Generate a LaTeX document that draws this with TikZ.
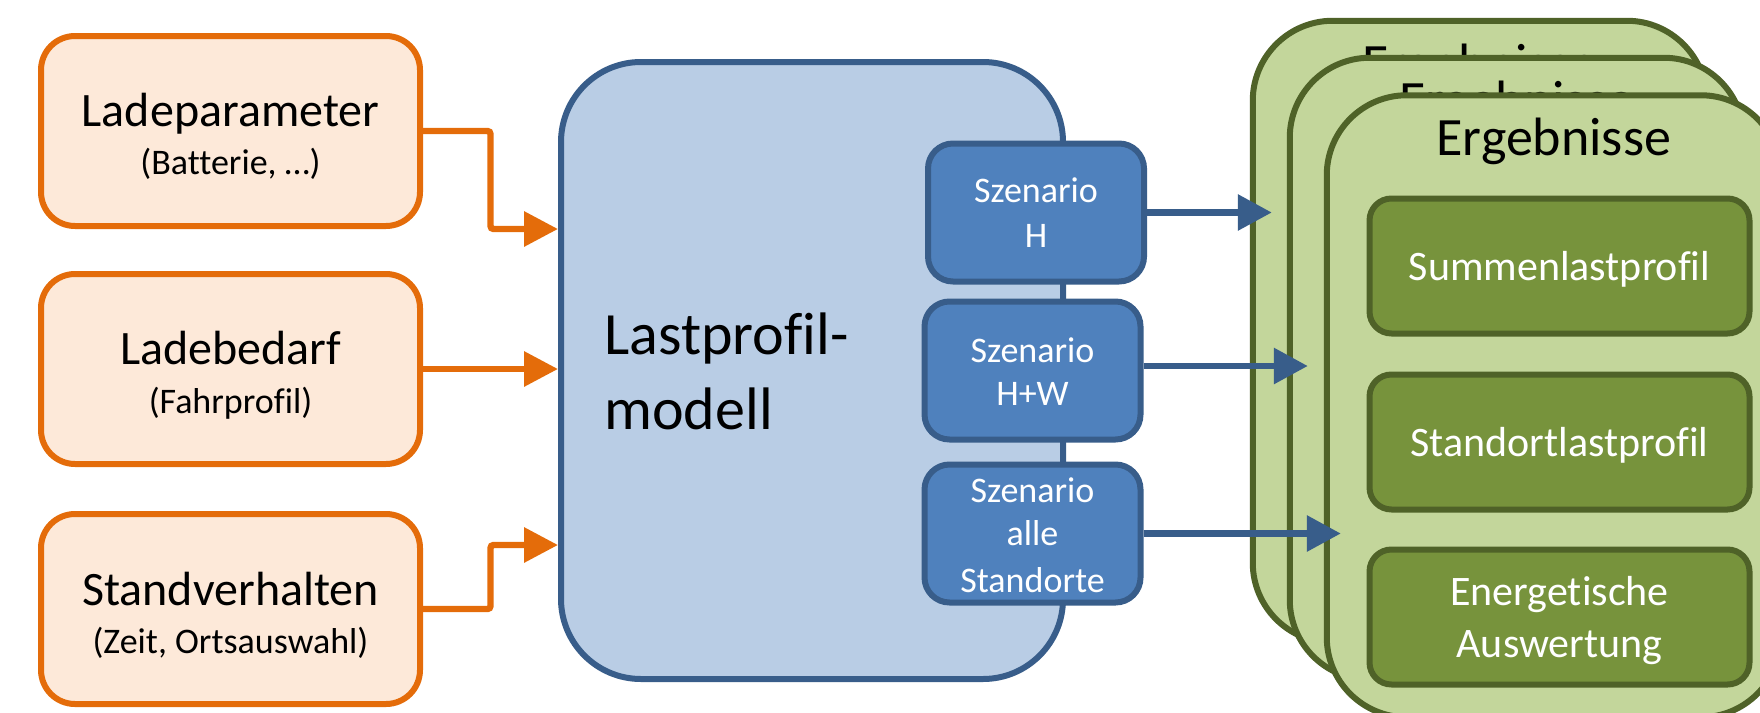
\documentclass[tikz,border=0pt]{standalone}
\usepackage{fontspec}
\setmainfont[Ligatures={NoCommon}]{Carlito}
\usetikzlibrary{arrows.meta,calc}
\definecolor{oline}{HTML}{E46C0A}
\definecolor{ofill}{HTML}{FDE9D9}
\definecolor{bline}{HTML}{385D8A}
\definecolor{bfill}{HTML}{B9CDE5}
\definecolor{sfill}{HTML}{4F81BD}
\definecolor{gline}{HTML}{4F6228}
\definecolor{gfill}{HTML}{C3D69B}
\definecolor{ifill}{HTML}{77933C}
\begin{document}
\begin{tikzpicture}[x=0.5pt,y=-0.5pt,
  obox/.style={draw=oline, fill=ofill, line width=3pt, rounded corners=17pt, minimum width=189.5pt, minimum height=95pt, inner sep=0pt},
  mbox/.style={draw=bline, fill=bfill, line width=3pt, rounded corners=40pt, minimum width=251pt, minimum height=308.5pt, inner sep=0pt},
  sbox/.style={draw=bline, fill=sfill, line width=3pt, rounded corners=12.5pt, minimum width=108pt, minimum height=69pt, inner sep=0pt},
  gbox/.style={draw=gline, fill=gfill, line width=3pt, rounded corners=40pt, minimum width=227pt, minimum height=311pt, inner sep=0pt},
  ibox/.style={draw=gline, fill=ifill, line width=3pt, rounded corners=11pt, minimum width=190pt, minimum height=67.5pt, inner sep=0pt},
  tbig/.style={font=\fontsize{24pt}{28pt}\selectfont, inner sep=0pt, anchor=base},
  tsmall/.style={font=\fontsize{18pt}{22pt}\selectfont, inner sep=0pt, anchor=base},
  tmodel/.style={font=\fontsize{30pt}{36pt}\selectfont, inner sep=0pt, anchor=base west},
  tscen/.style={font=\fontsize{18pt}{22pt}\selectfont, inner sep=0pt, anchor=base, text=white},
  terg/.style={font=\fontsize{27pt}{32pt}\selectfont, inner sep=0pt, anchor=base},
  tres/.style={font=\fontsize{21pt}{25pt}\selectfont, inner sep=0pt, anchor=base, text=white},
  oarr/.style={draw=oline, line width=3.2pt, rounded corners=1.5pt, -{Triangle[length=17pt,width=17pt]}},
  barr/.style={draw=bline, line width=3.2pt, -{Triangle[length=17pt,width=17.5pt]}}
]
\clip (0,0) rectangle (1760,712);
\useasboundingbox (0,0) rectangle (1760,712);

% input boxes
\node[obox] (lp) at (230.5,131) {};
\node[tbig] (lp-a) at (230.5,126) {Ladeparameter};
\node[tsmall] (lp-b) at (230.5,174) {(Batterie, …)};

\node[obox] (lb) at (230.5,369) {};
\node[tbig] (lb-a) at (230.5,364) {Ladebedarf};
\node[tsmall] (lb-b) at (230.5,413) {(Fahrprofil)};

\node[obox] (sv) at (230.5,609) {};
\node[tbig] (sv-a) at (230.5,605) {Standverhalten};
\node[tsmall] (sv-b) at (230.5,653) {(Zeit, Ortsauswahl)};

% model box
\node[mbox] (model) at (812,370.5) {};
\node[tmodel] (model-a) at (604,354) {Lastprofil-};
\node[tmodel] (model-b) at (604,429) {modell};

% scenario boxes
\node[sbox] (sH) at (1036,212.5) {};
\node[tscen] (sH-a) at (1036,202) {Szenario};
\node[tscen] (sH-b) at (1036,247) {H};

\node[sbox] (sHW) at (1032.5,370.5) {};
\node[tscen] (sHW-a) at (1032.5,362) {Szenario};
\node[tscen] (sHW-b) at (1032.5,405) {H+W};

\node[sbox] (sA) at (1032.5,533.5) {};
\node[tscen] (sA-a) at (1032.5,502) {Szenario};
\node[tscen] (sA-b) at (1032.5,545) {alle};
\node[tscen] (sA-c) at (1032.5,592) {Standorte};

% result stack
\node[gbox] (g1) at (1479.75,331.75) {};
\node[terg] (g1-t) at (1479.75,81) {Ergebnisse};
\node[gbox] (g2) at (1516.75,368.75) {};
\node[terg] (g2-t) at (1516.75,118) {Ergebnisse};
\node[gbox] (g3) at (1553.75,406.25) {};
\node[terg] (g3-t) at (1553.75,155) {Ergebnisse};

\node[ibox] (r1) at (1559.5,266) {};
\node[tres] (r1-t) at (1559.5,280) {Summenlastprofil};
\node[ibox] (r2) at (1559.5,442) {};
\node[tres] (r2-t) at (1559.5,456) {Standortlastprofil};
\node[ibox] (r3) at (1559.5,617) {};
\node[tres] (r3-a) at (1559.5,605) {Energetische};
\node[tres] (r3-b) at (1559.5,657) {Auswertung};

% orange connectors
\draw[oarr] (lp.east) -- (490.5,131) |- (model.west |- 0,229);
\draw[oarr] (lb.east) -- (model.west |- lb.east);
\draw[oarr] (sv.east) -- (490.5,609) |- (model.west |- 0,545);

% blue connectors
\coordinate (e1) at ($(g1.west |- sH.east)+(22,0)$);
\coordinate (s2) at ($(sHW.east)+(0,-4.5)$);
\coordinate (e2) at ($(g2.west |- s2)+(21,0)$);
\coordinate (e3) at ($(g3.west |- sA.east)+(17,0)$);
\draw[barr] (sH.east) -- (e1);
\draw[barr] (s2) -- (e2);
\draw[barr] (sA.east) -- (e3);
\end{tikzpicture}
\end{document}
